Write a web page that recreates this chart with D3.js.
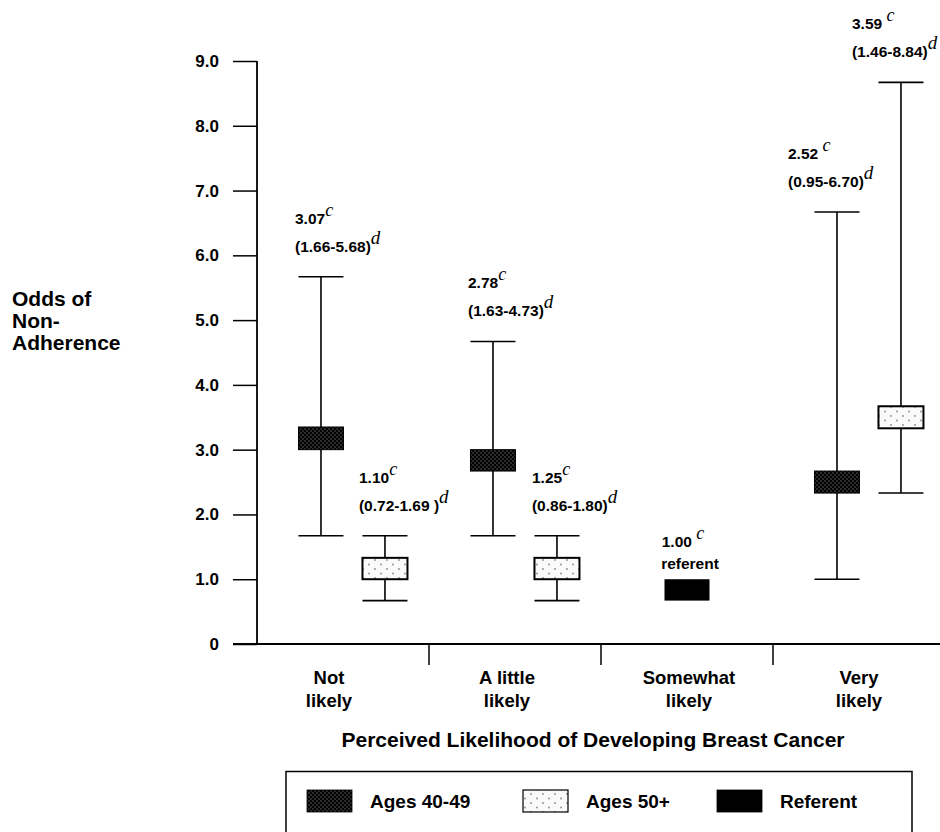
<!DOCTYPE html>
<html><head><meta charset="utf-8">
<script src="https://cdn.jsdelivr.net/npm/d3@7"></script>
<style>
html,body{margin:0;padding:0;background:#fff;}
svg{display:block;}
text{font-family:"Liberation Sans",Arial,Helvetica,sans-serif;font-weight:bold;fill:#000;}
.sup{font-family:"Liberation Serif","Times New Roman",serif;font-style:italic;font-weight:normal;}
</style></head>
<body>
<script>
// ---------- data ----------
const categories = ["Not likely", "A little likely", "Somewhat likely", "Very likely"];
const categoryLines = [["Not", "likely"], ["A little", "likely"], ["Somewhat", "likely"], ["Very", "likely"]];
const seriesNames = ["Ages 40-49", "Ages 50+", "Referent"];
const yTicks = [0, 1, 2, 3, 4, 5, 6, 7, 8, 9];

// Ages 40-49 (values as drawn in the figure)
const est40 = ["3.07", "2.78", null, "2.52"];
const ci40 = ["(1.66-5.68)", "(1.63-4.73)", null, "(0.95-6.70)"];
const boxLow40 = [3.0, 2.67, null, 2.33];
const boxHigh40 = [3.35, 3.0, null, 2.67];
const whiskLow40 = [1.67, 1.67, null, 1.0];
const whiskHigh40 = [5.67, 4.67, null, 6.67];

// Ages 50+
const est50 = ["1.10", "1.25", null, "3.59"];
const ci50 = ["(0.72-1.69 )", "(0.86-1.80)", null, "(1.46-8.84)"];
const boxLow50 = [1.0, 1.0, null, 3.33];
const boxHigh50 = [1.33, 1.33, null, 3.67];
const whiskLow50 = [0.67, 0.67, null, 2.33];
const whiskHigh50 = [1.67, 1.67, null, 8.67];

// Referent
const refCategory = "Somewhat likely";
const refEst = "1.00";
const refLabel = "referent";
const refBoxLow = 0.67;
const refBoxHigh = 1.0;

const supSpace = [false, false, true, true];

// ---------- layout ----------
const W = 940, H = 832;
const svg = d3.select("body").append("svg").attr("width", W).attr("height", H);
const defs = svg.append("defs");

const pd = defs.append("pattern").attr("id", "dark").attr("patternUnits", "userSpaceOnUse")
  .attr("width", 4).attr("height", 4);
pd.append("rect").attr("width", 4).attr("height", 4).attr("fill", "#000");
pd.append("circle").attr("cx", 1).attr("cy", 1).attr("r", 0.75).attr("fill", "#6a6a6a");
pd.append("circle").attr("cx", 3).attr("cy", 3).attr("r", 0.75).attr("fill", "#6a6a6a");

const pl = defs.append("pattern").attr("id", "light").attr("patternUnits", "userSpaceOnUse")
  .attr("width", 12).attr("height", 9);
pl.append("rect").attr("width", 12).attr("height", 9).attr("fill", "#fafafa");
pl.append("circle").attr("cx", 3).attr("cy", 2).attr("r", 0.9).attr("fill", "#8a8a8a");
pl.append("circle").attr("cx", 9).attr("cy", 6.5).attr("r", 0.9).attr("fill", "#8a8a8a");

const y = d3.scaleLinear().domain([0, 9]).range([644, 61]);
const x = d3.scaleBand().domain(categories).range([257, 945]).paddingInner(0).paddingOuter(0);
const seriesPos = d3.scaleOrdinal().domain(seriesNames).range([0.372, 0.744, 0.5]);
const boxW = 45;
const labelDx = [-26, -25, 0, -49];
const fills = {"Ages 40-49": "url(#dark)", "Ages 50+": "url(#light)", "Referent": "#000"};

// y axis
const yAxis = d3.axisLeft(y).tickValues(yTicks).tickSize(24).tickPadding(14)
  .tickFormat(d => d === 0 ? "0" : d3.format(".1f")(d));
const ga = svg.append("g").attr("transform", "translate(257,0)").call(yAxis);
ga.select(".domain").remove();
ga.selectAll(".tick line").attr("stroke", "#000").attr("stroke-width", 1.5);
ga.selectAll(".tick text").style("font-size", "17px").style("font-family", "'Liberation Sans',Arial,sans-serif")
  .style("font-weight", "bold").attr("fill", "#000");
svg.append("line").attr("x1", 257).attr("x2", 257).attr("y1", y(9)).attr("y2", y(0))
  .attr("stroke", "#000").attr("stroke-width", 1.8);

// x axis baseline & separators
svg.append("line").attr("x1", 233).attr("x2", W).attr("y1", y(0)).attr("y2", y(0))
  .attr("stroke", "#000").attr("stroke-width", 1.8);
svg.selectAll(".sep").data(categories.slice(1)).enter().append("line")
  .attr("x1", d => x(d)).attr("x2", d => x(d)).attr("y1", y(0)).attr("y2", y(0) + 21)
  .attr("stroke", "#000").attr("stroke-width", 1.5);

// category labels
categories.forEach((c, i) => {
  const t = svg.append("text").attr("text-anchor", "middle").style("font-size", "18.5px");
  categoryLines[i].forEach((ln, j) => {
    t.append("tspan").attr("x", x(c) + x.bandwidth() / 2 + [-14, -8, 2, 0][i]).attr("y", 684 + j * 23).text(ln);
  });
});

// axis titles
svg.append("text").attr("x", 593).attr("y", 747).attr("text-anchor", "middle")
  .style("font-size", "21px").text("Perceived Likelihood of Developing Breast Cancer");
const yt = svg.append("text").style("font-size", "21px");
["Odds of", "Non-", "Adherence"].forEach((s, j) => yt.append("tspan").attr("x", 12).attr("y", 306 + j * 22).text(s));

// ---------- marks ----------
function drawSeries(name, boxLow, boxHigh, wl, wh, est, ci) {
  categories.forEach((c, i) => {
    if (boxLow[i] == null) return;
    const cx = x(c) + x.bandwidth() * seriesPos(name);
    const g = svg.append("g");
    g.append("line").attr("x1", cx).attr("x2", cx).attr("y1", y(wl[i])).attr("y2", y(wh[i]))
      .attr("stroke", "#000").attr("stroke-width", 1.6);
    [wl[i], wh[i]].forEach(v => g.append("line").attr("x1", cx - boxW / 2).attr("x2", cx + boxW / 2)
      .attr("y1", y(v)).attr("y2", y(v)).attr("stroke", "#000").attr("stroke-width", 1.6));
    g.append("rect").attr("x", cx - boxW / 2).attr("width", boxW)
      .attr("y", y(boxHigh[i])).attr("height", y(boxLow[i]) - y(boxHigh[i]))
      .attr("fill", fills[name]).attr("stroke", "#000").attr("stroke-width", name === "Ages 50+" ? 2 : 1);
    const lx = cx + labelDx[i];
    const ciY = y(wh[i]) - 25;
    const t1 = svg.append("text").attr("x", lx).attr("y", ciY - 28).style("font-size", "15.5px");
    t1.append("tspan").text(est[i] + (supSpace[i] ? " " : ""));
    t1.append("tspan").attr("class", "sup").attr("dy", -8).style("font-size", "18px").text("c");
    const t2 = svg.append("text").attr("x", lx).attr("y", ciY).style("font-size", "15.5px");
    t2.append("tspan").text(ci[i]);
    t2.append("tspan").attr("class", "sup").attr("dy", -8).style("font-size", "19px").text("d");
  });
}
drawSeries("Ages 40-49", boxLow40, boxHigh40, whiskLow40, whiskHigh40, est40, ci40);
drawSeries("Ages 50+", boxLow50, boxHigh50, whiskLow50, whiskHigh50, est50, ci50);

// referent
{
  const cx = x(refCategory) + x.bandwidth() * seriesPos("Referent");
  svg.append("rect").attr("x", cx - boxW / 2).attr("width", boxW)
    .attr("y", y(refBoxHigh)).attr("height", y(refBoxLow) - y(refBoxHigh)).attr("fill", fills["Referent"]);
  const t1 = svg.append("text").attr("x", cx - 4).attr("y", y(refBoxHigh) - 32)
    .attr("text-anchor", "middle").style("font-size", "15.5px");
  t1.append("tspan").text(refEst + " ");
  t1.append("tspan").attr("class", "sup").attr("dy", -8).style("font-size", "18px").text("c");
  svg.append("text").attr("x", cx + 3).attr("y", y(refBoxHigh) - 10).attr("text-anchor", "middle")
    .style("font-size", "15.5px").text(refLabel);
}

// ---------- legend ----------
svg.append("rect").attr("x", 286).attr("y", 771.5).attr("width", 626).attr("height", 90)
  .attr("fill", "none").attr("stroke", "#000").attr("stroke-width", 1.5);
const legX = [307, 523, 717];
seriesNames.forEach((s, i) => {
  svg.append("rect").attr("x", legX[i]).attr("y", 790).attr("width", 45).attr("height", 22)
    .attr("fill", fills[s]).attr("stroke", "#000").attr("stroke-width", s === "Ages 50+" ? 1.2 : 0.8);
  svg.append("text").attr("x", legX[i] + 63).attr("y", 808).style("font-size", "19px").text(s);
});
</script>
</body></html>
